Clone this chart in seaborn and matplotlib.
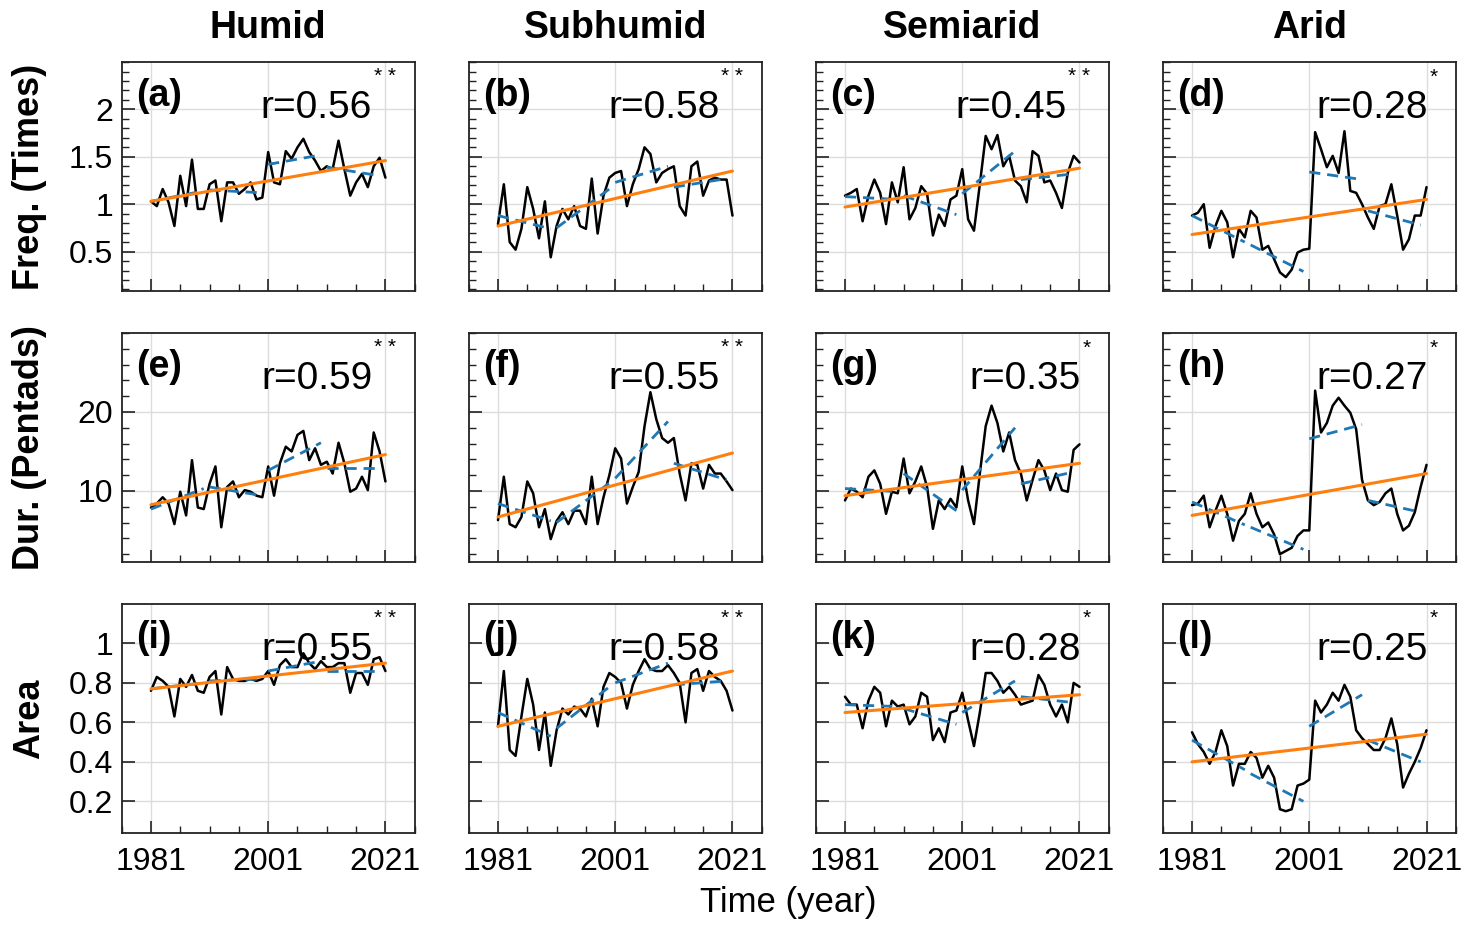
import numpy as np
import pandas as pd
import matplotlib
matplotlib.use('Agg')
import matplotlib.pyplot as plt
import seaborn as sns
from matplotlib.ticker import MultipleLocator, FuncFormatter, NullLocator

years = np.arange(1981, 2022)
climates = ['Humid', 'Subhumid', 'Semiarid', 'Arid']
row_labels = ['Freq. (Times)', 'Dur. (Pentads)', 'Area']
tags = ['(a)', '(b)', '(c)', '(d)', '(e)', '(f)', '(g)', '(h)', '(i)', '(j)', '(k)', '(l)']

# black series, one per panel
freq_humid = [1.03, 0.98, 1.16, 1.02, 0.77, 1.30, 0.98, 1.47, 0.95, 0.95, 1.21, 1.25, 0.82, 1.23,
              1.23, 1.11, 1.16, 1.23, 1.05, 1.07, 1.55, 1.23, 1.21, 1.56, 1.48, 1.60, 1.69, 1.55,
              1.46, 1.35, 1.40, 1.37, 1.67, 1.37, 1.09, 1.23, 1.32, 1.18, 1.40, 1.49, 1.28]
freq_subhumid = [0.79, 1.21, 0.60, 0.52, 0.74, 1.18, 0.95, 0.64, 1.03, 0.44, 0.77, 0.95, 0.84, 0.98,
                 0.77, 0.74, 1.27, 0.69, 1.09, 1.28, 1.33, 1.35, 0.98, 1.21, 1.37, 1.60, 1.53, 1.23,
                 1.33, 1.37, 1.40, 0.98, 0.88, 1.40, 1.45, 1.09, 1.25, 1.28, 1.26, 1.26, 0.88]
freq_semiarid = [1.09, 1.12, 1.16, 0.82, 1.09, 1.26, 1.12, 0.79, 1.23, 1.02, 1.39, 0.84, 0.96, 1.19,
                 1.11, 0.67, 0.89, 0.77, 1.05, 1.09, 1.37, 0.84, 0.72, 1.21, 1.72, 1.58, 1.73, 1.40,
                 1.51, 1.25, 1.19, 1.02, 1.56, 1.51, 1.23, 1.25, 1.12, 0.96, 1.33, 1.51, 1.44]
freq_arid = [0.88, 0.91, 1.00, 0.54, 0.77, 0.93, 0.81, 0.44, 0.74, 0.65, 0.93, 0.86, 0.52, 0.56,
             0.42, 0.28, 0.23, 0.31, 0.49, 0.52, 0.53, 1.76, 1.58, 1.39, 1.51, 1.33, 1.77, 1.14,
             1.12, 1.00, 0.86, 0.74, 0.98, 1.00, 1.21, 0.88, 0.52, 0.63, 0.88, 0.88, 1.18]

dur_humid = [7.9, 8.4, 9.2, 8.4, 5.8, 9.9, 6.9, 13.9, 7.9, 7.7, 10.9, 13.1, 5.4, 10.5, 11.2, 9.2,
             10.1, 9.9, 9.4, 9.2, 13.1, 9.4, 13.5, 15.6, 15.0, 17.1, 17.6, 13.9, 15.4, 13.3, 13.7,
             12.2, 16.1, 13.5, 9.9, 10.3, 11.8, 10.1, 17.4, 15.0, 11.2]
dur_subhumid = [6.3, 11.8, 5.8, 5.4, 6.7, 11.2, 9.7, 5.4, 7.7, 3.9, 6.2, 7.3, 5.8, 7.5, 7.5, 5.8,
                11.8, 5.8, 9.2, 12.0, 15.4, 14.1, 8.4, 10.5, 12.4, 18.2, 22.5, 19.1, 16.7, 16.1, 16.7,
                12.2, 8.8, 13.5, 13.3, 10.3, 13.3, 12.2, 12.2, 11.2, 10.1]
dur_semiarid = [8.8, 10.3, 9.9, 9.2, 11.8, 12.6, 10.9, 7.1, 9.9, 9.7, 14.1, 9.7, 11.2, 13.1, 10.5, 5.2,
                8.8, 7.7, 9.0, 7.9, 13.1, 8.8, 5.8, 12.2, 18.2, 20.8, 18.6, 15.0, 17.4, 13.9, 12.2,
                8.8, 11.4, 13.9, 12.6, 10.1, 12.2, 10.1, 9.9, 15.2, 15.9]
dur_arid = [8.2, 8.4, 9.4, 5.4, 7.5, 9.4, 7.1, 3.7, 6.2, 7.1, 9.7, 7.1, 5.4, 6.0, 4.5, 2.0, 2.4, 2.8,
            4.3, 5.0, 5.0, 22.7, 17.4, 18.6, 20.8, 21.8, 20.8, 19.9, 17.8, 11.4, 8.8, 8.2, 8.6, 9.7,
            10.3, 7.1, 5.0, 5.6, 7.3, 10.5, 13.3]

area_humid = [0.76, 0.83, 0.81, 0.78, 0.63, 0.82, 0.78, 0.84, 0.76, 0.75, 0.83, 0.86, 0.64, 0.88,
              0.82, 0.81, 0.81, 0.82, 0.81, 0.82, 0.86, 0.79, 0.89, 0.92, 0.88, 0.88, 0.95, 0.90,
              0.87, 0.91, 0.88, 0.88, 0.90, 0.90, 0.75, 0.85, 0.85, 0.79, 0.92, 0.93, 0.86]
area_subhumid = [0.58, 0.86, 0.46, 0.43, 0.63, 0.82, 0.69, 0.46, 0.65, 0.38, 0.56, 0.67, 0.64, 0.68,
                 0.67, 0.63, 0.72, 0.58, 0.78, 0.85, 0.83, 0.80, 0.67, 0.79, 0.86, 0.92, 0.87, 0.86,
                 0.86, 0.89, 0.85, 0.80, 0.60, 0.85, 0.87, 0.76, 0.86, 0.83, 0.81, 0.76, 0.66]
area_semiarid = [0.73, 0.69, 0.69, 0.57, 0.71, 0.78, 0.75, 0.58, 0.71, 0.68, 0.69, 0.59, 0.63, 0.75,
                 0.73, 0.51, 0.57, 0.50, 0.65, 0.66, 0.75, 0.61, 0.48, 0.65, 0.85, 0.85, 0.81, 0.75,
                 0.78, 0.74, 0.69, 0.70, 0.71, 0.84, 0.79, 0.69, 0.63, 0.69, 0.60, 0.80, 0.78]
area_arid = [0.55, 0.49, 0.45, 0.39, 0.45, 0.56, 0.48, 0.28, 0.39, 0.39, 0.45, 0.42, 0.32, 0.38,
             0.32, 0.16, 0.15, 0.16, 0.28, 0.29, 0.31, 0.71, 0.65, 0.69, 0.75, 0.71, 0.79, 0.73,
             0.56, 0.52, 0.49, 0.46, 0.46, 0.52, 0.62, 0.49, 0.27, 0.34, 0.40, 0.47, 0.56]

# linear trend (orange) at 1981 and 2021
freq_linear = [(1.03, 1.46), (0.77, 1.35), (0.97, 1.38), (0.68, 1.05)]
dur_linear = [(8.25, 14.6), (6.7, 14.8), (9.4, 13.5), (6.9, 12.2)]
area_linear = [(0.77, 0.90), (0.58, 0.86), (0.65, 0.74), (0.40, 0.54)]

# decadal trends (blue dashed): value at start / end of each decade
decade_starts = [1981, 1991, 2001, 2011]
decade_ends = [1990, 2000, 2010, 2020]
freq_decadal = [[(1.03, 1.14), (1.15, 1.12), (1.42, 1.52), (1.39, 1.30)],
                [(0.88, 0.74), (0.75, 1.16), (1.23, 1.40), (1.18, 1.27)],
                [(1.08, 1.05), (1.09, 0.89), (1.11, 1.56), (1.26, 1.32)],
                [(0.88, 0.60), (0.57, 0.29), (1.34, 1.26), (0.93, 0.78)]]
dur_decadal = [[(7.7, 10.3), (10.5, 9.4), (12.6, 16.1), (12.9, 12.9)],
               [(8.4, 6.2), (6.0, 11.0), (11.6, 18.8), (13.5, 11.4)],
               [(10.3, 9.9), (12.2, 7.5), (10.1, 18.0), (10.9, 12.4)],
               [(8.6, 5.7), (5.4, 2.6), (16.6, 18.4), (8.8, 7.3)]]
area_decadal = [[(0.77, 0.80), (0.81, 0.82), (0.86, 0.91), (0.86, 0.86)],
                [(0.65, 0.53), (0.57, 0.78), (0.80, 0.90), (0.79, 0.81)],
                [(0.69, 0.68), (0.67, 0.59), (0.65, 0.81), (0.73, 0.70)],
                [(0.51, 0.36), (0.34, 0.20), (0.58, 0.74), (0.51, 0.40)]]

r_values = [[0.56, 0.58, 0.45, 0.28], [0.59, 0.55, 0.35, 0.27], [0.55, 0.58, 0.28, 0.25]]
signif = [['* *', '* *', '* *', '*'], ['* *', '* *', '*', '*'], ['* *', '* *', '*', '*']]

series = [[freq_humid, freq_subhumid, freq_semiarid, freq_arid],
          [dur_humid, dur_subhumid, dur_semiarid, dur_arid],
          [area_humid, area_subhumid, area_semiarid, area_arid]]
linear = [freq_linear, dur_linear, area_linear]
decadal = [freq_decadal, dur_decadal, area_decadal]

ylims = [(0.0833, 2.5), (1, 30), (0.04, 1.2)]
yticks = [[0.5, 1, 1.5, 2], [10, 20], [0.2, 0.4, 0.6, 0.8, 1.0]]
yminor = [0.1, 2, None]

sns.set_theme(style='white')
plt.rcParams['font.family'] = ['Liberation Sans', 'DejaVu Sans']
plt.rcParams['text.color'] = 'black'
plt.rcParams['axes.labelcolor'] = 'black'

fig, axes = plt.subplots(3, 4, figsize=(14.78, 9.26), dpi=100)
fig.subplots_adjust(left=0.0823, right=0.985, top=0.933, bottom=0.1005, wspace=0.184, hspace=0.183)

for i in range(3):
    for j in range(4):
        ax = axes[i, j]
        sns.lineplot(x=years, y=series[i][j], color='black', lw=1.8, ax=ax, zorder=3)

        seg = []
        for k in range(4):
            seg.append({'year': decade_starts[k], 'val': decadal[i][j][k][0], 'seg': k})
            seg.append({'year': decade_ends[k], 'val': decadal[i][j][k][1], 'seg': k})
        seg = pd.DataFrame(seg)
        sns.lineplot(data=seg, x='year', y='val', units='seg', estimator=None,
                     color='#1f77b4', lw=2.0, linestyle=(0, (4, 2.5)), ax=ax, zorder=4)

        sns.lineplot(x=[1981, 2021], y=list(linear[i][j]), color='#ff7f0e', lw=2.2, ax=ax, zorder=5)

        ax.set_xlim(1976, 2026)
        ax.set_ylim(*ylims[i])
        ax.set_xticks([1981, 2001, 2021])
        ax.xaxis.set_minor_locator(MultipleLocator(5, offset=1))
        ax.set_yticks(yticks[i])
        if yminor[i]:
            ax.yaxis.set_minor_locator(MultipleLocator(yminor[i]))
        else:
            ax.yaxis.set_minor_locator(NullLocator())
        ax.yaxis.set_major_formatter(FuncFormatter(lambda v, p: f'{v:g}'))

        ax.tick_params(which='both', direction='in', top=False, right=False,
                       left=True, bottom=True, colors='#222222', labelcolor='black',
                       labelsize=23)
        ax.tick_params(axis='x', which='major', length=9, width=1.2, pad=10)
        ax.tick_params(axis='y', which='major', length=9, width=1.2, pad=6)
        ax.tick_params(which='minor', length=5, width=1)
        ax.grid(True, which='major', color='#dcdcdc', lw=1)
        for s in ax.spines.values():
            s.set_color('#222222')
            s.set_linewidth(1.3)

        ax.set_xlabel('')
        ax.set_ylabel('')
        if i < 2:
            ax.set_xticklabels([])
        if j > 0:
            ax.set_yticklabels([])
        else:
            ax.set_ylabel(row_labels[i], fontweight='bold', fontsize=26)
            ax.yaxis.set_label_coords(-0.255, 0.5)
        if i == 0:
            ax.set_title(climates[j], fontweight='bold', fontsize=27, pad=17)

        ax.text(0.05, 0.85, tags[i * 4 + j], transform=ax.transAxes, fontsize=27,
                fontweight='bold', ha='left', va='center', zorder=6)
        stars = signif[i][j]
        xr = 0.955 - 0.05 * len(stars.replace(' ', ''))
        ax.text(xr, 0.8, f'r={r_values[i][j]:.2f}', transform=ax.transAxes, fontsize=28,
                ha='right', va='center', zorder=6)
        ax.text(xr + 0.005, 0.935, stars, transform=ax.transAxes, fontsize=15,
                ha='left', va='center', zorder=6)

fig.text(0.533, 0.025, 'Time (year)', fontsize=25, ha='center', va='center')

fig.savefig('out.png', dpi=100)
